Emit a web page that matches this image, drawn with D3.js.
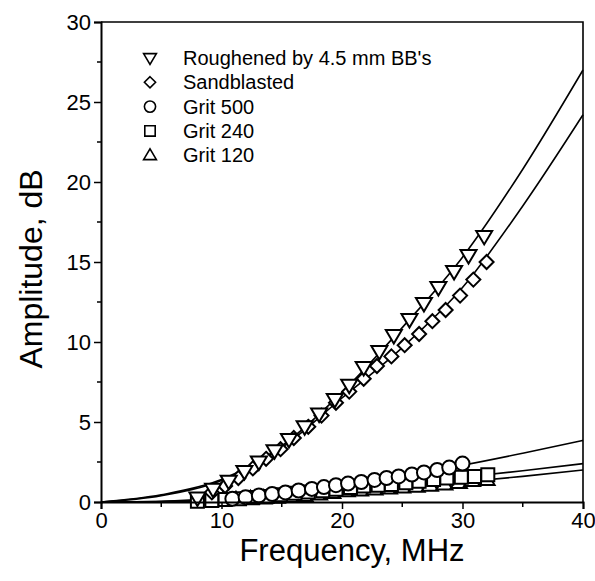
<!DOCTYPE html>
<html>
<head>
<meta charset="utf-8">
<script src="https://cdn.jsdelivr.net/npm/d3@7"></script>
<style>
	body { margin: 0; background: #fff; }
	svg text { font-family: "Liberation Sans", Arial, sans-serif; fill: #000; }
</style>
</head>
<body>
<div id="chart"></div>
<script>
// Measured points, [frequency MHz, amplitude dB]
var roughenedPts = [[8.0,0.25],[9.3,0.8],[10.6,1.3],[11.9,1.9],[13.1,2.5],[14.4,3.2],[15.6,3.9],[16.9,4.7],[18.1,5.5],[19.4,6.4],[20.6,7.3],[21.8,8.4],[23.1,9.4],[24.3,10.4],[25.6,11.4],[26.8,12.4],[28.0,13.4],[29.3,14.4],[30.5,15.4],[31.8,16.6]];
var sandblastedPts = [[9.2,0.6],[10.3,1.0],[11.4,1.5],[12.6,2.1],[13.7,2.7],[14.9,3.3],[16.0,4.0],[17.2,4.7],[18.3,5.4],[19.5,6.2],[20.6,6.9],[21.8,7.7],[22.9,8.5],[24.1,9.1],[25.2,9.8],[26.4,10.5],[27.5,11.3],[28.6,12.0],[29.8,12.9],[30.9,13.9],[32.0,15.0]];
var grit500Pts = [[10.9,0.2],[12.0,0.3],[13.1,0.4],[14.2,0.5],[15.3,0.6],[16.4,0.72],[17.5,0.82],[18.5,0.93],[19.5,1.05],[20.5,1.15],[21.6,1.25],[22.7,1.38],[23.7,1.5],[24.7,1.6],[25.8,1.72],[26.8,1.85],[27.9,2.0],[28.9,2.15],[30.0,2.4]];
var grit240Pts = [[8.0,0.05],[9.2,0.1],[10.3,0.15],[11.5,0.2],[12.6,0.28],[13.8,0.35],[14.9,0.45],[16.1,0.55],[17.2,0.62],[18.4,0.7],[19.5,0.8],[20.7,0.9],[21.8,1.0],[23.0,1.05],[24.1,1.1],[25.3,1.2],[26.4,1.3],[27.6,1.4],[28.7,1.5],[29.9,1.55],[31.0,1.6],[32.1,1.7]];
var grit120Pts = [[10.1,0.1],[11.2,0.15],[12.4,0.2],[13.5,0.25],[14.6,0.3],[15.8,0.35],[16.9,0.4],[18.1,0.5],[19.2,0.6],[20.4,0.7],[21.5,0.75],[22.7,0.82],[23.9,0.88],[25.0,0.93],[26.2,0.98],[27.3,1.05],[28.5,1.12],[29.7,1.22],[30.8,1.35],[32.0,1.4]];

// Fitted curves
var fitFreq = [0, 5, 10, 15, 20, 25, 30, 35, 40];
var roughenedFit = [0, 0.45, 1.4, 3.5, 6.85, 10.9, 15.3, 20.8, 27.0];
var sandblastedFit = [0, 0.4, 1.35, 3.4, 6.5, 9.65, 13.4, 18.5, 24.2];
var grit500Fit = [0, 0.05, 0.25, 0.6, 1.1, 1.65, 2.3, 3.05, 3.85];
var grit240Fit = [0, 0.03, 0.15, 0.45, 0.85, 1.2, 1.55, 1.95, 2.4];
var grit120Fit = [0, 0.02, 0.1, 0.35, 0.7, 0.95, 1.25, 1.6, 2.0];

var xTicks = [0, 10, 20, 30, 40];
var xMinorTicks = [5, 15, 25, 35];
var yTicks = [0, 5, 10, 15, 20, 25, 30];
var yMinorTicks = [2.5, 7.5, 12.5, 17.5, 22.5, 27.5];

var legendNames = ["Roughened by 4.5 mm BB's", "Sandblasted", "Grit 500", "Grit 240", "Grit 120"];

function drawChart() {
	var width = 595, height = 581;
	var mLeft = 101, mRight = 583, mTop = 22, mBottom = 502;

	var svg = d3.select("#chart").append("svg")
		.attr("width", width)
		.attr("height", height);

	var x = d3.scaleLinear().domain([0, 40]).range([mLeft, mRight]);
	var y = d3.scaleLinear().domain([0, 30]).range([mBottom, mTop]);

	// symbol outline, centred on 0,0
	function symbolPath(kind) {
		switch (kind) {
			case "down": return "M-8,-5.5L8,-5.5L0,8Z";
			case "up": return "M-8,5.5L8,5.5L0,-8Z";
			case "diamond": return "M0,-7L7,0L0,7L-7,0Z";
			case "square": return "M-6.5,-6.5L6.5,-6.5L6.5,6.5L-6.5,6.5Z";
			case "circle": return "M7,0A7,7 0 1,1 -7,0A7,7 0 1,1 7,0Z";
		}
	}

	var series = [
		{pts: roughenedPts, fit: roughenedFit, sym: "down"},
		{pts: sandblastedPts, fit: sandblastedFit, sym: "diamond"},
		{pts: grit500Pts, fit: grit500Fit, sym: "circle"},
		{pts: grit240Pts, fit: grit240Fit, sym: "square"},
		{pts: grit120Pts, fit: grit120Fit, sym: "up"}
	];

	var line = d3.line()
		.x(function(d) { return x(d[0]); })
		.y(function(d) { return y(d[1]); })
		.curve(d3.curveMonotoneX);

	// fit lines
	series.forEach(function(s) {
		var pts = fitFreq.map(function(f, i) { return [f, s.fit[i]]; });
		svg.append("path")
			.attr("d", line(pts))
			.attr("fill", "none")
			.attr("stroke", "#000")
			.attr("stroke-width", 1.6);
	});

	// markers, lower series first
	series.slice().reverse().forEach(function(s) {
		svg.append("g").selectAll("path")
			.data(s.pts)
			.enter().append("path")
			.attr("transform", function(d) { return "translate(" + x(d[0]) + "," + y(d[1]) + ")"; })
			.attr("d", symbolPath(s.sym))
			.attr("fill", "#fff")
			.attr("stroke", "#000")
			.attr("stroke-width", 2);
	});

	// frame top and right
	svg.append("path")
		.attr("d", "M" + mLeft + "," + mTop + "H" + mRight + "V" + mBottom)
		.attr("fill", "none")
		.attr("stroke", "#000")
		.attr("stroke-width", 1.6);

	var xAxis = d3.axisBottom(x).tickValues(xTicks).tickSize(7).tickPadding(2).tickFormat(d3.format("d"));
	var gx = svg.append("g").attr("transform", "translate(0," + mBottom + ")").call(xAxis);
	gx.selectAll("line.minor")
		.data(xMinorTicks)
		.enter().append("line")
		.attr("class", "minor")
		.attr("x1", function(d) { return x(d); }).attr("x2", function(d) { return x(d); })
		.attr("y1", 0).attr("y2", 5)
		.attr("stroke", "#000").attr("stroke-width", 1.5);

	var yAxis = d3.axisLeft(y).tickValues(yTicks).tickSize(7).tickPadding(3).tickFormat(d3.format("d"));
	var gy = svg.append("g").attr("transform", "translate(" + mLeft + ",0)").call(yAxis);
	gy.selectAll("line.minor")
		.data(yMinorTicks)
		.enter().append("line")
		.attr("class", "minor")
		.attr("y1", function(d) { return y(d); }).attr("y2", function(d) { return y(d); })
		.attr("x1", 0).attr("x2", -4)
		.attr("stroke", "#000").attr("stroke-width", 1.5);

	[gx, gy].forEach(function(g) {
		g.attr("font-family", null).attr("font-size", null);
		g.select(".domain").attr("stroke-width", 2);
		g.selectAll(".tick line").attr("stroke-width", 1.5);
		g.selectAll(".tick text").attr("font-size", 22);
	});
	gx.selectAll(".tick text").attr("dy", "0.78em");
	gy.selectAll(".tick text").attr("dy", "0.36em");

	// axis titles
	svg.append("text")
		.attr("x", (mLeft + mRight) / 2 + 10)
		.attr("y", 561)
		.attr("text-anchor", "middle")
		.attr("font-size", 31)
		.text("Frequency, MHz");

	svg.append("text")
		.attr("transform", "translate(42,269) rotate(-90)")
		.attr("text-anchor", "middle")
		.attr("font-size", 32)
		.text("Amplitude, dB");

	// legend
	var legend = svg.append("g").attr("transform", "translate(150,58)");
	series.forEach(function(s, i) {
		legend.append("path")
			.attr("transform", "translate(0," + (i * 24.3) + ") scale(0.8)")
			.attr("d", symbolPath(s.sym))
			.attr("fill", "#fff")
			.attr("stroke", "#000")
			.attr("stroke-width", 2);
		legend.append("text")
			.attr("x", 33)
			.attr("y", i * 24.3)
			.attr("dy", "0.35em")
			.attr("font-size", 20)
			.text(legendNames[i]);
	});
}

drawChart();
</script>
</body>
</html>
